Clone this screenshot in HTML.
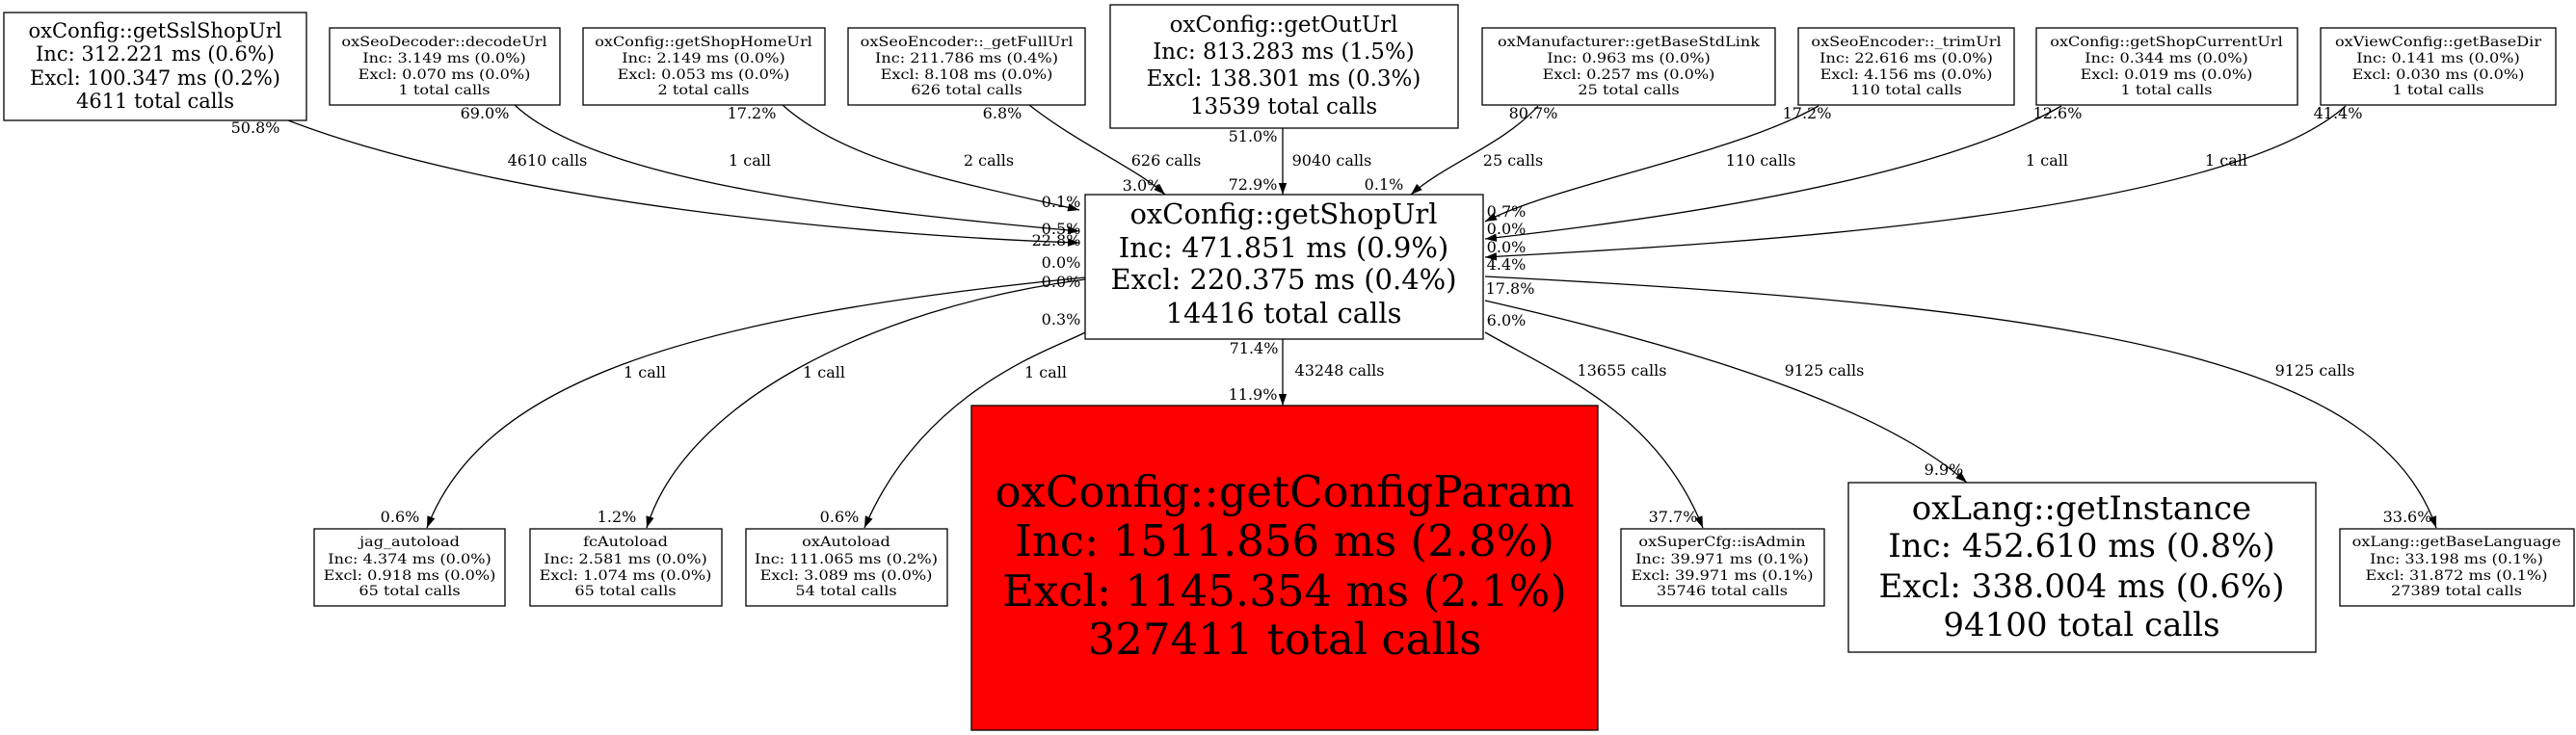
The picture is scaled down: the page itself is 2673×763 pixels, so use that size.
<!DOCTYPE html>
<html><head><meta charset="utf-8"><style>
html,body{margin:0;padding:0;background:#fff;}
svg{display:block;}
text{font-family:"DejaVu Serif","Liberation Serif",serif;fill:#000;}
.s{font-size:14px;}
.l{font-size:16px;}
</style></head><body>
<svg width="2673" height="763" viewBox="0 0 2673 763" xmlns="http://www.w3.org/2000/svg">
<defs><marker id="a" viewBox="0 0 10 7" refX="10" refY="3.5" markerWidth="12" markerHeight="9" markerUnits="userSpaceOnUse" orient="auto"><path d="M0,0 L10,3.5 L0,7 z" fill="#000"/></marker></defs>
<g fill="none" stroke="#000" stroke-width="1.3" marker-end="url(#a)">
<path d="M299,125 C520,210 900,245 1120,252"/>
<path d="M534,109 C620,190 900,220 1120,240"/>
<path d="M812,109 C880,170 1000,190 1120,218"/>
<path d="M1068,109 C1120,150 1180,175 1209,202"/>
<path d="M1331,133 L1331,202"/>
<path d="M1596,110 C1560,150 1500,170 1464,202"/>
<path d="M1887,110 C1800,160 1620,190 1541,230"/>
<path d="M2139,110 C2000,190 1700,230 1541,248"/>
<path d="M2434,110 C2300,230 1750,255 1541,267"/>
<path d="M1541,287 C2200,320 2470,380 2528,548"/>
<path d="M1541,312 C1750,360 1950,420 2041,501"/>
<path d="M1541,345 C1620,390 1720,430 1767,548"/>
<path d="M1331,352 L1331,421"/>
<path d="M1126,288 C700,330 500,400 443,548"/>
<path d="M1126,290 C900,320 710,420 671,548"/>
<path d="M1126,345 C1100,360 960,400 897,548"/>
</g>
<g stroke="#000" stroke-width="1.3" fill="#fff">
<rect x="4" y="13" width="314" height="112"/>
<rect x="342" y="29" width="239" height="80"/>
<rect x="605" y="29" width="251" height="80"/>
<rect x="880" y="29" width="246" height="80"/>
<rect x="1152" y="5" width="361" height="128"/>
<rect x="1126" y="202" width="413" height="150"/>
<rect x="1538" y="29" width="304" height="80"/>
<rect x="1866" y="29" width="224" height="80"/>
<rect x="2113" y="29" width="271" height="80"/>
<rect x="2408" y="29" width="244" height="80"/>
<rect x="326" y="549" width="198" height="80"/>
<rect x="550" y="549" width="199" height="80"/>
<rect x="774" y="549" width="209" height="80"/>
<rect x="1008" y="421" width="650" height="337" fill="#ff0000"/>
<rect x="1682" y="549" width="211" height="80"/>
<rect x="1918" y="501" width="485" height="176"/>
<rect x="2428" y="549" width="243" height="80"/>
</g>
<g text-anchor="middle">
<g style="font-size:21px">
<text x="161" y="39">oxConfig::getSslShopUrl</text>
<text x="161" y="63">Inc: 312.221 ms (0.6%)</text>
<text x="161" y="88">Excl: 100.347 ms (0.2%)</text>
<text x="161" y="112">4611 total calls</text>
</g>
<g style="font-size:23px">
<text x="1332" y="33">oxConfig::getOutUrl</text>
<text x="1332" y="61">Inc: 813.283 ms (1.5%)</text>
<text x="1332" y="89">Excl: 138.301 ms (0.3%)</text>
<text x="1332" y="118">13539 total calls</text>
</g>
<g style="font-size:29px">
<text x="1332" y="232">oxConfig::getShopUrl</text>
<text x="1332" y="267">Inc: 471.851 ms (0.9%)</text>
<text x="1332" y="300">Excl: 220.375 ms (0.4%)</text>
<text x="1332" y="335">14416 total calls</text>
</g>
<g style="font-size:45px">
<text x="1333" y="526">oxConfig::getConfigParam</text>
<text x="1333" y="577">Inc: 1511.856 ms (2.8%)</text>
<text x="1333" y="629">Excl: 1145.354 ms (2.1%)</text>
<text x="1333" y="679">327411 total calls</text>
</g>
<g style="font-size:34px">
<text x="2160" y="539">oxLang::getInstance</text>
<text x="2160" y="578">Inc: 452.610 ms (0.8%)</text>
<text x="2160" y="620">Excl: 338.004 ms (0.6%)</text>
<text x="2160" y="660">94100 total calls</text>
</g>
<g class="s">
<text transform="translate(461,48) scale(1.15,1)">oxSeoDecoder::decodeUrl</text>
<text transform="translate(461,65) scale(1.15,1)">Inc: 3.149 ms (0.0%)</text>
<text transform="translate(461,82) scale(1.15,1)">Excl: 0.070 ms (0.0%)</text>
<text transform="translate(461,98) scale(1.15,1)">1 total calls</text>
<text transform="translate(730,48) scale(1.15,1)">oxConfig::getShopHomeUrl</text>
<text transform="translate(730,65) scale(1.15,1)">Inc: 2.149 ms (0.0%)</text>
<text transform="translate(730,82) scale(1.15,1)">Excl: 0.053 ms (0.0%)</text>
<text transform="translate(730,98) scale(1.15,1)">2 total calls</text>
<text transform="translate(1003,48) scale(1.15,1)">oxSeoEncoder::_getFullUrl</text>
<text transform="translate(1003,65) scale(1.15,1)">Inc: 211.786 ms (0.4%)</text>
<text transform="translate(1003,82) scale(1.15,1)">Excl: 8.108 ms (0.0%)</text>
<text transform="translate(1003,98) scale(1.15,1)">626 total calls</text>
<text transform="translate(1690,48) scale(1.15,1)">oxManufacturer::getBaseStdLink</text>
<text transform="translate(1690,65) scale(1.15,1)">Inc: 0.963 ms (0.0%)</text>
<text transform="translate(1690,82) scale(1.15,1)">Excl: 0.257 ms (0.0%)</text>
<text transform="translate(1690,98) scale(1.15,1)">25 total calls</text>
<text transform="translate(1978,48) scale(1.15,1)">oxSeoEncoder::_trimUrl</text>
<text transform="translate(1978,65) scale(1.15,1)">Inc: 22.616 ms (0.0%)</text>
<text transform="translate(1978,82) scale(1.15,1)">Excl: 4.156 ms (0.0%)</text>
<text transform="translate(1978,98) scale(1.15,1)">110 total calls</text>
<text transform="translate(2248,48) scale(1.15,1)">oxConfig::getShopCurrentUrl</text>
<text transform="translate(2248,65) scale(1.15,1)">Inc: 0.344 ms (0.0%)</text>
<text transform="translate(2248,82) scale(1.15,1)">Excl: 0.019 ms (0.0%)</text>
<text transform="translate(2248,98) scale(1.15,1)">1 total calls</text>
<text transform="translate(2530,48) scale(1.15,1)">oxViewConfig::getBaseDir</text>
<text transform="translate(2530,65) scale(1.15,1)">Inc: 0.141 ms (0.0%)</text>
<text transform="translate(2530,82) scale(1.15,1)">Excl: 0.030 ms (0.0%)</text>
<text transform="translate(2530,98) scale(1.15,1)">1 total calls</text>
<text transform="translate(425,567) scale(1.15,1)">jag_autoload</text>
<text transform="translate(425,585) scale(1.15,1)">Inc: 4.374 ms (0.0%)</text>
<text transform="translate(425,602) scale(1.15,1)">Excl: 0.918 ms (0.0%)</text>
<text transform="translate(425,618) scale(1.15,1)">65 total calls</text>
<text transform="translate(649,567) scale(1.15,1)">fcAutoload</text>
<text transform="translate(649,585) scale(1.15,1)">Inc: 2.581 ms (0.0%)</text>
<text transform="translate(649,602) scale(1.15,1)">Excl: 1.074 ms (0.0%)</text>
<text transform="translate(649,618) scale(1.15,1)">65 total calls</text>
<text transform="translate(878,567) scale(1.15,1)">oxAutoload</text>
<text transform="translate(878,585) scale(1.15,1)">Inc: 111.065 ms (0.2%)</text>
<text transform="translate(878,602) scale(1.15,1)">Excl: 3.089 ms (0.0%)</text>
<text transform="translate(878,618) scale(1.15,1)">54 total calls</text>
<text transform="translate(1787,567) scale(1.15,1)">oxSuperCfg::isAdmin</text>
<text transform="translate(1787,585) scale(1.15,1)">Inc: 39.971 ms (0.1%)</text>
<text transform="translate(1787,602) scale(1.15,1)">Excl: 39.971 ms (0.1%)</text>
<text transform="translate(1787,618) scale(1.15,1)">35746 total calls</text>
<text transform="translate(2549,567) scale(1.15,1)">oxLang::getBaseLanguage</text>
<text transform="translate(2549,585) scale(1.15,1)">Inc: 33.198 ms (0.1%)</text>
<text transform="translate(2549,602) scale(1.15,1)">Excl: 31.872 ms (0.1%)</text>
<text transform="translate(2549,618) scale(1.15,1)">27389 total calls</text>
</g>
<g class="l">
<text x="265" y="138">50.8%</text>
<text x="1096" y="255">22.8%</text>
<text x="568" y="172">4610 calls</text>
<text x="503" y="123">69.0%</text>
<text x="1101" y="243">0.5%</text>
<text x="778" y="172">1 call</text>
<text x="780" y="123">17.2%</text>
<text x="1101" y="215">0.1%</text>
<text x="1026" y="172">2 calls</text>
<text x="1040" y="123">6.8%</text>
<text x="1185" y="198">3.0%</text>
<text x="1210" y="172">626 calls</text>
<text x="1300" y="147">51.0%</text>
<text x="1300" y="197">72.9%</text>
<text x="1382" y="172">9040 calls</text>
<text x="1591" y="123">80.7%</text>
<text x="1436" y="197">0.1%</text>
<text x="1570" y="172">25 calls</text>
<text x="1875" y="123">17.2%</text>
<text x="1563" y="225">0.7%</text>
<text x="1827" y="172">110 calls</text>
<text x="2135" y="123">12.6%</text>
<text x="1563" y="243">0.0%</text>
<text x="2124" y="172">1 call</text>
<text x="2426" y="123">41.4%</text>
<text x="1563" y="262">0.0%</text>
<text x="2310" y="172">1 call</text>
<text x="1563" y="280">4.4%</text>
<text x="1567" y="305">17.8%</text>
<text x="1563" y="338">6.0%</text>
<text x="1101" y="278">0.0%</text>
<text x="1101" y="298">0.0%</text>
<text x="1101" y="337">0.3%</text>
<text x="1301" y="367">71.4%</text>
<text x="1390" y="390">43248 calls</text>
<text x="1300" y="415">11.9%</text>
<text x="669" y="392">1 call</text>
<text x="415" y="542">0.6%</text>
<text x="855" y="392">1 call</text>
<text x="640" y="542">1.2%</text>
<text x="1085" y="392">1 call</text>
<text x="871" y="542">0.6%</text>
<text x="1683" y="390">13655 calls</text>
<text x="1736" y="542">37.7%</text>
<text x="1893" y="390">9125 calls</text>
<text x="2017" y="493">9.9%</text>
<text x="2402" y="390">9125 calls</text>
<text x="2498" y="542">33.6%</text>
</g>
</g>
</svg>
</body></html>
